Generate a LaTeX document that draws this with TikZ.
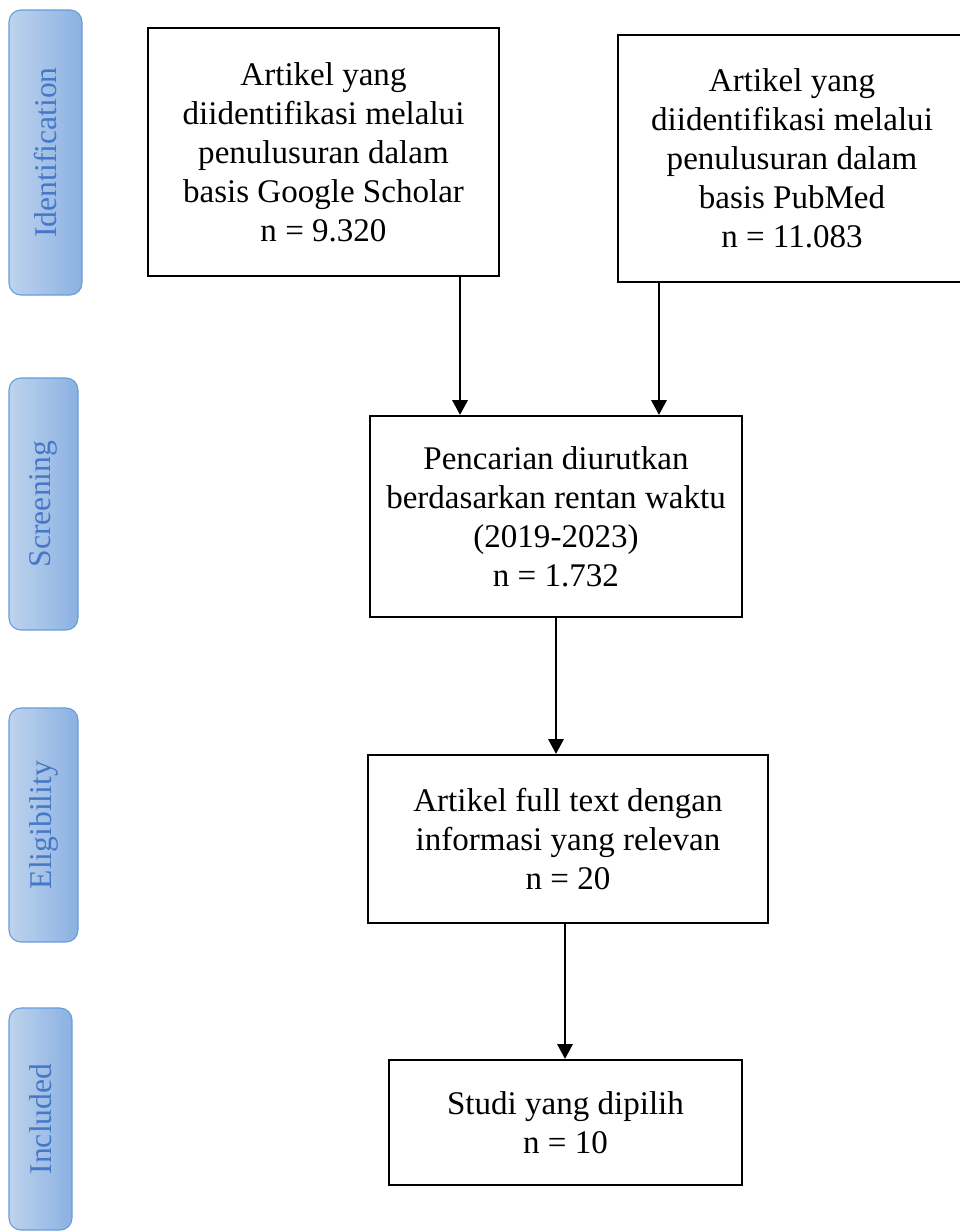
\documentclass[tikz,border=0pt]{standalone}
\usepackage{fontspec}
\setmainfont{Liberation Serif}
\definecolor{phasetext}{RGB}{70, 120, 200}
\definecolor{phaseline}{RGB}{105, 158, 222}
\definecolor{phaselight}{RGB}{190, 211, 237}
\definecolor{phasedark}{RGB}{138, 177, 226}
\usetikzlibrary{shapes, arrows.meta, positioning, calc}

\begin{document}
\begin{tikzpicture}[x=0.025cm, y=-0.025cm,
    phase/.style={draw=phaseline, line width=0.8pt, rounded corners=0.3cm, rotate=90,
      left color=phaselight, right color=phasedark, text=phasetext,
      font=\fontsize{22.5}{26}\selectfont, inner sep=0pt},
    flowbox/.style={draw=black, line width=1.6pt, align=center, inner sep=0pt,
      font=\fontsize{23.5}{27.7}\selectfont},
    flowarrow/.style={line width=1.2pt, -{Triangle[width=11pt, length=10.5pt]}}]
  \useasboundingbox (0,0) rectangle (960,1232);

  % phase labels on the left
  \node[phase, minimum width=7.125cm, minimum height=1.825cm] (ident) at (45.5, 152.5) {Identification};
  \node[phase, minimum width=6.3cm, minimum height=1.725cm] (screen) at (43.5, 504) {Screening};
  \node[phase, minimum width=5.85cm, minimum height=1.725cm] (elig) at (43.5, 825) {Eligibility};
  \node[phase, minimum width=5.55cm, minimum height=1.575cm] (incl) at (40.5, 1119) {Included};

  % identification
  \node[flowbox, minimum width=8.775cm, minimum height=6.2cm] (scholar) at (323.5, 152) {
    Artikel yang\\
    diidentifikasi melalui\\
    penulusuran dalam\\
    basis Google Scholar\\
    n = 9.320
  };
  \node[flowbox, minimum width=8.7cm, minimum height=6.175cm] (pubmed) at (792, 158.5) {
    Artikel yang\\
    diidentifikasi melalui\\
    penulusuran dalam\\
    basis PubMed\\
    n = 11.083
  };

  % screening
  \node[flowbox, minimum width=9.3cm, minimum height=5.025cm] (sorted) at (556, 516.5) {
    Pencarian diurutkan\\
    berdasarkan rentan waktu\\
    (2019-2023)\\
    n = 1.732
  };

  % eligibility
  \node[flowbox, minimum width=10cm, minimum height=4.2cm] (fulltext) at (568, 839) {
    Artikel full text dengan\\
    informasi yang relevan\\
    n = 20
  };

  % included
  \node[flowbox, minimum width=8.825cm, minimum height=3.125cm] (chosen) at (565.5, 1122.5) {
    Studi yang dipilih\\
    n = 10
  };

  % arrows
  \draw[flowarrow] ([xshift=3.4125cm]scholar.south) -- ([xshift=3.4125cm]scholar.south |- sorted.north);
  \draw[flowarrow] ([xshift=-3.325cm]pubmed.south) -- ([xshift=-3.325cm]pubmed.south |- sorted.north);
  \draw[flowarrow] (sorted.south) -- (sorted.south |- fulltext.north);
  \draw[flowarrow] ([xshift=-0.075cm]fulltext.south) -- ([xshift=-0.075cm]fulltext.south |- chosen.north);
\end{tikzpicture}
\end{document}
